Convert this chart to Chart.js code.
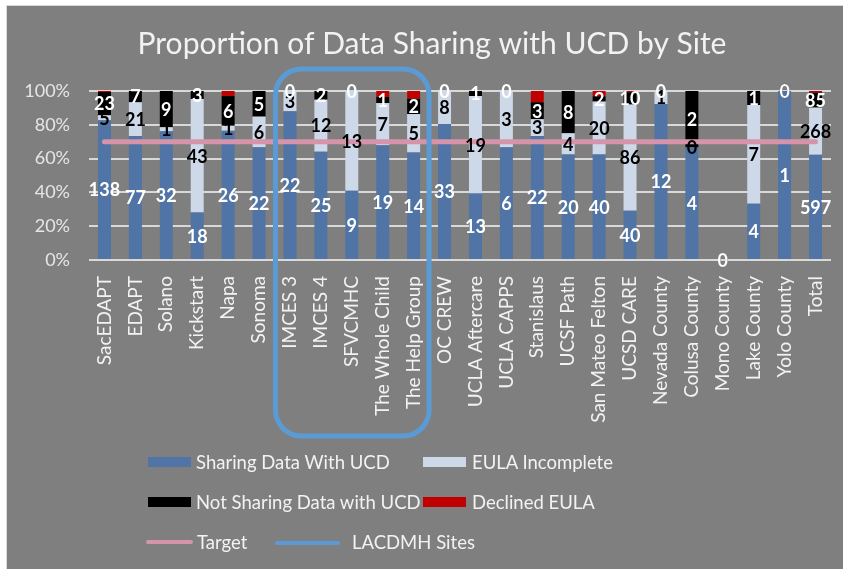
<!DOCTYPE html>
<html>
<head>
<meta charset="utf-8">
<script src="https://cdn.jsdelivr.net/npm/chart.js@4.4.0/dist/chart.umd.min.js"></script>
<style>
    body { margin: 0; background: #ffffff; }
    .wrap { position: relative; width: 843px; height: 569px; }
    canvas { position: absolute; left: 0; top: 0; }
    .legend { position: absolute; font-family: Lato, "Open Sans", sans-serif; font-size: 18.5px; color: #f2f2f2; }
    .legend .item { position: absolute; white-space: nowrap; line-height: 22px; }
    .legend .box { position: absolute; width: 43px; height: 10px; }
    .legend .line { position: absolute; height: 4px; border-radius: 2px; }
</style>
</head>
<body>
<div class="wrap">
    <canvas id="chart" width="843" height="569"></canvas>
    <div class="legend">
        <div class="box" style="left:148px; top:457px; background:#4f74a5;"></div>
        <div class="item" style="left:196px; top:451px;">Sharing Data With UCD</div>
        <div class="box" style="left:423px; top:457px; background:#cdd9e8;"></div>
        <div class="item" style="left:472px; top:451px;">EULA Incomplete</div>

        <div class="box" style="left:148px; top:497px; background:#000000;"></div>
        <div class="item" style="left:196px; top:491px;">Not Sharing Data with UCD</div>
        <div class="box" style="left:423px; top:497px; background:#c00000;"></div>
        <div class="item" style="left:472px; top:491px;">Declined EULA</div>

        <div class="line" style="left:146px; top:540px; width:47px; background:#d694aa;"></div>
        <div class="item" style="left:197px; top:531px;">Target</div>
        <div class="line" style="left:275px; top:541px; width:65px; background:#5b9bd5;"></div>
        <div class="item" style="left:352px; top:531px;">LACDMH Sites</div>
    </div>
</div>

<script>
// DATA

const chartTitle = "Proportion of Data Sharing with UCD by Site";

const sites = [
    "SacEDAPT", "EDAPT", "Solano", "Kickstart", "Napa", "Sonoma",
    "IMCES 3", "IMCES 4", "SFVCMHC", "The Whole Child", "The Help Group",
    "OC CREW", "UCLA Aftercare", "UCLA CAPPS", "Stanislaus", "UCSF Path",
    "San Mateo Felton", "UCSD CARE", "Nevada County", "Colusa County",
    "Mono County", "Lake County", "Yolo County", "Total"
];

const sharingData =    [138, 77, 32, 18, 26, 22, 22, 25,  9, 19, 14, 33, 13, 6, 22, 20, 40, 40, 12, 4, 0, 4, 1, 597];
const eulaIncomplete = [  5, 21,  1, 43,  1,  6,  3, 12, 13,  7,  5,  8, 19, 3,  3,  4, 20, 86,  1, 0, 0, 7, 0, 268];
const notSharing =     [ 23,  7,  9,  3,  6,  5,  0,  2,  0,  1,  2,  0,  1, 0,  3,  8,  2, 10,  0, 2, 0, 1, 0,  85];
const declinedEula =   [  1,  0,  0,  0,  1,  0,  0,  0,  0,  1,  1,  0,  0, 0,  2,  0,  2,  1,  0, 0, 0, 0, 0,   9];

const targetPercent = 70;
const yTicks = [0, 10, 20, 30, 40, 50, 60, 70, 80, 90, 100];

// sites boxed as LACDMH (first and last index)
const lacdmhFrom = 6;
const lacdmhTo = 10;

// HELPERS

const series = [sharingData, eulaIncomplete, notSharing, declinedEula];
const totals = sites.map((s, i) => series.reduce((sum, arr) => sum + arr[i], 0));

function toPercent(arr) {
    return arr.map((v, i) => totals[i] ? v / totals[i] * 100 : 0);
}

const labelColors = ["#ffffff", "#000000", "#ffffff", null]; // no labels on declined

// PLUGINS

const backgroundPlugin = {
    id: "background",
    beforeDraw(chart) {
        const ctx = chart.ctx;
        ctx.save();
        ctx.fillStyle = "#ffffff";
        ctx.fillRect(0, 0, chart.width, chart.height);
        ctx.fillStyle = "#7f7f7f";
        ctx.fillRect(6, 5, chart.width - 6, chart.height - 5);
        ctx.strokeStyle = "#d9d9d9";
        ctx.lineWidth = 1;
        ctx.strokeRect(6.5, 5.5, chart.width, chart.height);

        // title, centred a little right of the canvas middle like the original
        ctx.fillStyle = "#f2f2f2";
        ctx.font = "30px Lato, 'Open Sans', sans-serif";
        ctx.textAlign = "center";
        ctx.textBaseline = "middle";
        ctx.fillText(chartTitle, 432, 44);
        ctx.restore();
    }
};

const lacdmhBoxPlugin = {
    id: "lacdmhBox",
    afterDraw(chart) {
        const x = chart.scales.x;
        const area = chart.chartArea;
        const half = (x.getPixelForValue(1) - x.getPixelForValue(0)) / 2;
        const left = x.getPixelForValue(lacdmhFrom) - half + 1;
        const right = x.getPixelForValue(lacdmhTo) + half;
        const top = area.top - 22;
        const bottom = area.bottom + 176;
        const ctx = chart.ctx;
        ctx.save();
        ctx.strokeStyle = "#5b9bd5";
        ctx.lineWidth = 5;
        ctx.beginPath();
        ctx.roundRect(left, top, right - left, bottom - top, 26);
        ctx.stroke();
        ctx.restore();
    }
};

const valueLabelPlugin = {
    id: "valueLabels",
    afterDraw(chart) {
        const ctx = chart.ctx;
        ctx.save();
        ctx.font = "bold 18px Lato, 'Open Sans', sans-serif";
        ctx.textAlign = "center";
        ctx.textBaseline = "middle";
        series.forEach((arr, d) => {
            if (!labelColors[d]) return;
            const meta = chart.getDatasetMeta(d);
            ctx.fillStyle = labelColors[d];
            meta.data.forEach((bar, i) => {
                const y = (bar.y + bar.base) / 2;
                ctx.fillText(String(arr[i]), bar.x, y + 1);
            });
        });
        ctx.restore();
    }
};

// CHART

Chart.defaults.font.family = "Lato, 'Open Sans', sans-serif";
Chart.defaults.color = "#f2f2f2";

const barStyle = {
    barPercentage: 0.42,
    categoryPercentage: 1,
    borderWidth: 0,
    stack: "sites",
};

new Chart(document.getElementById("chart"), {
    type: "bar",
    plugins: [backgroundPlugin, lacdmhBoxPlugin, valueLabelPlugin],
    data: {
        labels: sites,
        datasets: [
            { label: "Sharing Data With UCD", data: toPercent(sharingData), backgroundColor: "#4f74a5", ...barStyle },
            { label: "EULA Incomplete", data: toPercent(eulaIncomplete), backgroundColor: "#cdd9e8", ...barStyle },
            { label: "Not Sharing Data with UCD", data: toPercent(notSharing), backgroundColor: "#000000", ...barStyle },
            { label: "Declined EULA", data: toPercent(declinedEula), backgroundColor: "#c00000", ...barStyle },
            {
                type: "line",
                label: "Target",
                data: sites.map(() => targetPercent),
                borderColor: "#d694aa",
                borderWidth: 5,
                pointRadius: 0,
                borderCapStyle: "round",
                stack: "target",
                order: -1,
            }
        ]
    },
    options: {
        responsive: false,
        animation: false,
        events: [],
        layout: {
            padding: { top: 91, left: 0, right: 0, bottom: 0 }
        },
        scales: {
            x: {
                stacked: true,
                grid: { display: false, drawTicks: false },
                border: { display: false },
                ticks: {
                    minRotation: 90,
                    maxRotation: 90,
                    autoSkip: false,
                    padding: 16,
                    color: "#f2f2f2",
                    font: { size: 19 },
                },
                afterFit(scale) {
                    scale.height = 309;
                    scale.paddingRight = 12;
                }
            },
            y: {
                stacked: true,
                min: 0,
                max: 100,
                afterBuildTicks(scale) { scale.ticks = yTicks.map(v => ({ value: v })); },
                grid: { color: "#d9d9d9", lineWidth: 2, drawTicks: false },
                border: { display: false },
                ticks: {
                    padding: 19,
                    color: "#e6e6e6",
                    font: { size: 18 },
                    callback: v => v + "%",
                },
                afterFit(scale) { scale.width = 89; }
            }
        },
        plugins: {
            legend: { display: false },
            tooltip: { enabled: false },
            title: { display: false }
        }
    }
});
</script>
</body>
</html>
